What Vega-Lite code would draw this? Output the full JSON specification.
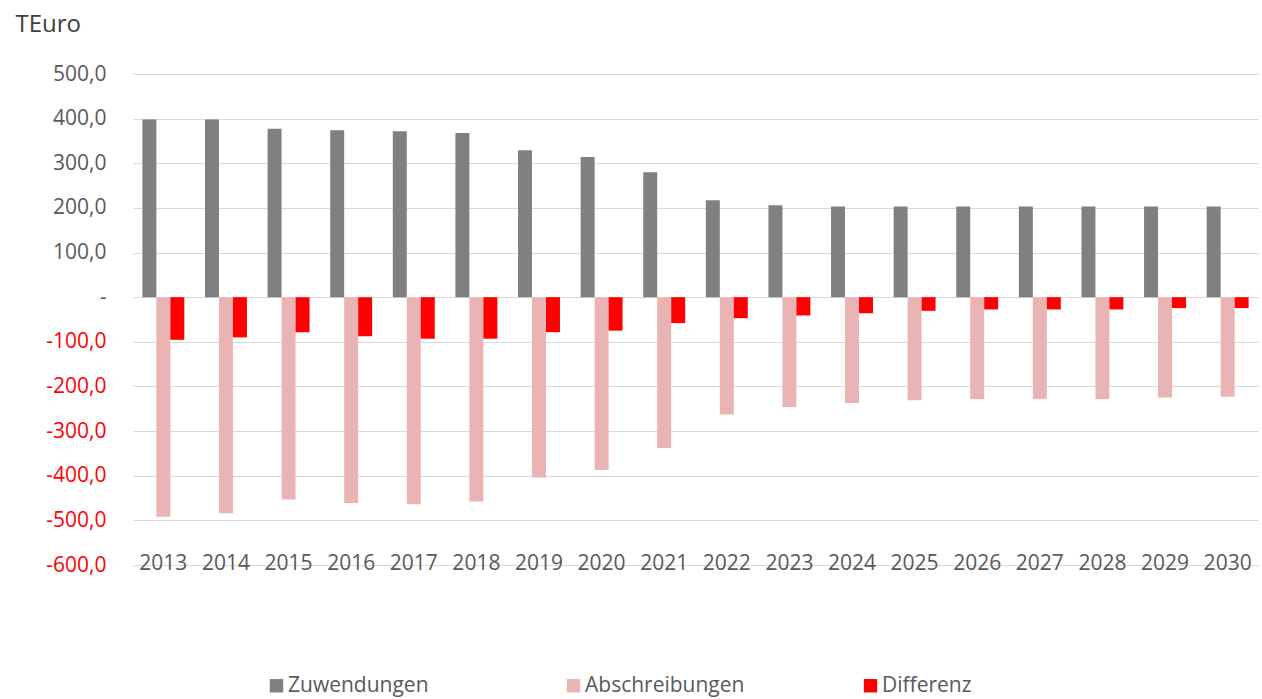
{
  "$schema": "https://vega.github.io/schema/vega-lite/v6.json",
  "width": 1125,
  "height": 491,
  "autosize": {"type": "none"},
  "padding": {"left": 133, "top": 74, "right": 4, "bottom": 134},
  "background": "white",
  "config": {
    "font": "Open Sans",
    "view": {"stroke": null},
    "axis": {"labelFont": "Open Sans", "titleFont": "Open Sans"}
  },
  "data": {
    "values": [
      {"year": "2013", "series": "Zuwendungen", "value": 398},
      {"year": "2014", "series": "Zuwendungen", "value": 398},
      {"year": "2015", "series": "Zuwendungen", "value": 377.5},
      {"year": "2016", "series": "Zuwendungen", "value": 374},
      {"year": "2017", "series": "Zuwendungen", "value": 372},
      {"year": "2018", "series": "Zuwendungen", "value": 368},
      {"year": "2019", "series": "Zuwendungen", "value": 329},
      {"year": "2020", "series": "Zuwendungen", "value": 314},
      {"year": "2021", "series": "Zuwendungen", "value": 280},
      {"year": "2022", "series": "Zuwendungen", "value": 217},
      {"year": "2023", "series": "Zuwendungen", "value": 206},
      {"year": "2024", "series": "Zuwendungen", "value": 203},
      {"year": "2025", "series": "Zuwendungen", "value": 203},
      {"year": "2026", "series": "Zuwendungen", "value": 203},
      {"year": "2027", "series": "Zuwendungen", "value": 203},
      {"year": "2028", "series": "Zuwendungen", "value": 203},
      {"year": "2029", "series": "Zuwendungen", "value": 203},
      {"year": "2030", "series": "Zuwendungen", "value": 203},
      {"year": "2013", "series": "Abschreibungen", "value": -492},
      {"year": "2014", "series": "Abschreibungen", "value": -484},
      {"year": "2015", "series": "Abschreibungen", "value": -453},
      {"year": "2016", "series": "Abschreibungen", "value": -461},
      {"year": "2017", "series": "Abschreibungen", "value": -464},
      {"year": "2018", "series": "Abschreibungen", "value": -458},
      {"year": "2019", "series": "Abschreibungen", "value": -404},
      {"year": "2020", "series": "Abschreibungen", "value": -387},
      {"year": "2021", "series": "Abschreibungen", "value": -338},
      {"year": "2022", "series": "Abschreibungen", "value": -263},
      {"year": "2023", "series": "Abschreibungen", "value": -246},
      {"year": "2024", "series": "Abschreibungen", "value": -237},
      {"year": "2025", "series": "Abschreibungen", "value": -231},
      {"year": "2026", "series": "Abschreibungen", "value": -228},
      {"year": "2027", "series": "Abschreibungen", "value": -228},
      {"year": "2028", "series": "Abschreibungen", "value": -228},
      {"year": "2029", "series": "Abschreibungen", "value": -225},
      {"year": "2030", "series": "Abschreibungen", "value": -223},
      {"year": "2013", "series": "Differenz", "value": -95.5},
      {"year": "2014", "series": "Differenz", "value": -90},
      {"year": "2015", "series": "Differenz", "value": -78.5},
      {"year": "2016", "series": "Differenz", "value": -87.5},
      {"year": "2017", "series": "Differenz", "value": -93},
      {"year": "2018", "series": "Differenz", "value": -93},
      {"year": "2019", "series": "Differenz", "value": -78.5},
      {"year": "2020", "series": "Differenz", "value": -75},
      {"year": "2021", "series": "Differenz", "value": -58},
      {"year": "2022", "series": "Differenz", "value": -47},
      {"year": "2023", "series": "Differenz", "value": -41},
      {"year": "2024", "series": "Differenz", "value": -36},
      {"year": "2025", "series": "Differenz", "value": -30.5},
      {"year": "2026", "series": "Differenz", "value": -27.5},
      {"year": "2027", "series": "Differenz", "value": -27.5},
      {"year": "2028", "series": "Differenz", "value": -27.5},
      {"year": "2029", "series": "Differenz", "value": -24.5},
      {"year": "2030", "series": "Differenz", "value": -24.5}
    ]
  },
  "mark": {"type": "bar"},
  "encoding": {
    "x": {
      "field": "year",
      "type": "nominal",
      "scale": {"paddingInner": 0.33, "paddingOuter": 0.15},
      "axis": {
        "title": null,
        "domain": false,
        "ticks": false,
        "grid": false,
        "labelAngle": 0,
        "labelFontSize": 21,
        "labelColor": "#595959",
        "labelBaseline": "middle",
        "labelPadding": -2
      }
    },
    "xOffset": {
      "field": "series",
      "type": "nominal",
      "sort": ["Zuwendungen", "Abschreibungen", "Differenz"],
      "scale": {"paddingInner": 0, "paddingOuter": 0}
    },
    "y": {
      "field": "value",
      "type": "quantitative",
      "scale": {"domain": [-600, 500], "nice": false},
      "axis": {
        "title": "TEuro",
        "titleAngle": 0,
        "titleAlign": "left",
        "titleBaseline": "top",
        "titleX": -118,
        "titleY": -62,
        "titleFontSize": 24,
        "titleFontWeight": "normal",
        "titleColor": "#404040",
        "values": [-600, -500, -400, -300, -200, -100, 0, 100, 200, 300, 400, 500],
        "domain": false,
        "ticks": false,
        "labelPadding": 27,
        "labelFontSize": 21,
        "labelColor": {"condition": {"test": "datum.value < 0", "value": "#ff0000"}, "value": "#595959"},
        "labelExpr": "datum.value == 0 ? '-' : (datum.value < 0 ? '-' : '') + replace(format(abs(datum.value), '.1f'), '.', ',')",
        "gridColor": "#d9d9d9",
        "gridWidth": 1
      }
    },
    "color": {
      "field": "series",
      "type": "nominal",
      "scale": {
        "domain": ["Zuwendungen", "Abschreibungen", "Differenz"],
        "range": ["#808080", "#ebb4b4", "#ff0000"]
      },
      "legend": {
        "title": null,
        "orient": "none",
        "direction": "horizontal",
        "legendX": 133,
        "legendY": 601,
        "symbolType": "square",
        "symbolSize": 180,
        "symbolStrokeWidth": 0,
        "labelFontSize": 21,
        "labelColor": "#595959",
        "labelOffset": 1,
        "gridAlign": "all",
        "columnPadding": 115
      }
    }
  }
}
